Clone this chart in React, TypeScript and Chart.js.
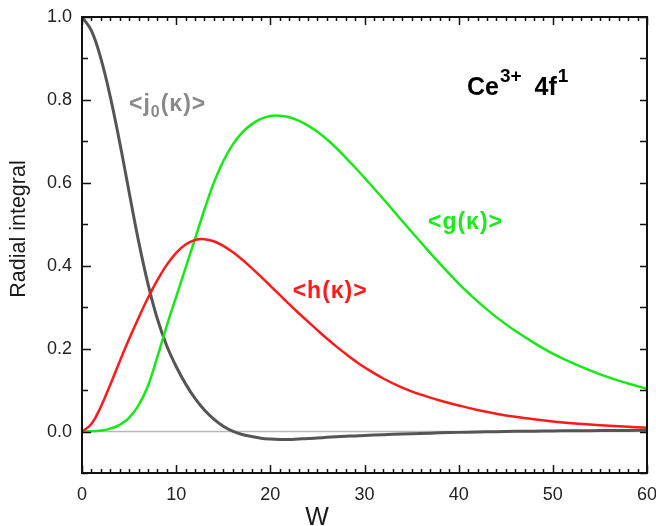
import { useEffect, useRef } from "react";
import { Chart, registerables } from "chart.js";

Chart.register(...registerables);

// ---- data ----
const W = [0, 1, 2, 3, 4, 5, 6, 7, 8, 9, 10, 11, 12, 13, 14, 15, 16, 17, 18, 19, 20, 21, 22, 23, 24, 25, 26, 27, 28, 29, 30, 32, 34, 36, 38, 40, 42, 44, 46, 48, 50, 52, 54, 56, 58, 60];
const J0 = [1.0, 0.967, 0.9, 0.808, 0.698, 0.578, 0.46, 0.357, 0.272, 0.207, 0.157, 0.115, 0.08, 0.052, 0.03, 0.013, 0.001, -0.007, -0.012, -0.016, -0.018, -0.019, -0.019, -0.018, -0.017, -0.0155, -0.014, -0.0128, -0.0116, -0.0105, -0.0095, -0.0076, -0.006, -0.0045, -0.0032, -0.002, -0.001, -0.0002, 0.0005, 0.001, 0.0015, 0.0018, 0.0021, 0.0024, 0.0027, 0.003];
const H = [0, 0.018, 0.06, 0.113, 0.169, 0.223, 0.274, 0.322, 0.365, 0.402, 0.431, 0.451, 0.462, 0.464, 0.459, 0.448, 0.433, 0.415, 0.395, 0.3735, 0.3515, 0.3295, 0.3075, 0.286, 0.265, 0.2445, 0.2245, 0.2055, 0.1875, 0.1705, 0.155, 0.128, 0.106, 0.089, 0.075, 0.063, 0.052, 0.043, 0.0355, 0.0295, 0.0245, 0.0202, 0.0168, 0.0138, 0.0113, 0.0092];
const G = [0, 0.0005, 0.0025, 0.007, 0.016, 0.033, 0.063, 0.11, 0.18, 0.255, 0.325, 0.395, 0.465, 0.535, 0.6, 0.652, 0.692, 0.721, 0.741, 0.754, 0.761, 0.762, 0.758, 0.75, 0.738, 0.723, 0.705, 0.684, 0.661, 0.637, 0.612, 0.561, 0.508, 0.456, 0.405, 0.357, 0.314, 0.276, 0.243, 0.214, 0.188, 0.166, 0.147, 0.13, 0.116, 0.103];

const X_TICKS = [0, 10, 20, 30, 40, 50, 60];
const Y_TICKS = [0.0, 0.2, 0.4, 0.6, 0.8, 1.0];
const X_MIN = 0;
const X_MAX = 60;
const Y_MIN = -0.1;
const Y_MAX = 1.0;
const X_TITLE = "W";
const Y_TITLE = "Radial integral";

type Part = { text: string; size: number; dy?: number; dx?: number; ls?: number };
type Label = { x: number; y: number; color: string; parts: Part[] };

const LABELS: Label[] = [
  {
    x: 40.88, y: 0.812, color: "#000000",
    parts: [
      { text: "Ce", size: 25 },
      { text: "3+", size: 19, dy: -13, dx: 1 },
      { text: "4f", size: 25, dx: 13 },
      { text: "1", size: 19, dy: -13, dx: 1 },
    ],
  },
  {
    x: 4.99, y: 0.774, color: "#8a8a8a",
    parts: [
      { text: "<j", size: 23, ls: 1 },
      { text: "0", size: 16, dy: 6, ls: 1 },
      { text: "(\u03BA)>", size: 23, ls: 1 },
    ],
  },
  { x: 36.74, y: 0.4885, color: "#1ee81e", parts: [{ text: "<g(\u03BA)>", size: 23, ls: 1 }] },
  { x: 22.37, y: 0.323, color: "#ff1a1a", parts: [{ text: "<h(\u03BA)>", size: 23, ls: 1 }] },
];

const FONT = '"Liberation Sans", Arial, sans-serif';

function drawParts(ctx: CanvasRenderingContext2D, x: number, y: number, parts: Part[], color: string) {
  let cx = x;
  ctx.fillStyle = color;
  ctx.textAlign = "left";
  ctx.textBaseline = "alphabetic";
  for (const p of parts) {
    ctx.font = `bold ${p.size}px ${FONT}`;
    (ctx as any).letterSpacing = `${p.ls ?? 0}px`;
    cx += p.dx ?? 0;
    ctx.fillText(p.text, cx, y + (p.dy ?? 0));
    cx += ctx.measureText(p.text).width;
  }
  (ctx as any).letterSpacing = "0px";
}

const framePlugin = {
  id: "framePlugin",
  beforeDatasetsDraw(chart: any) {
    const { ctx, chartArea: a, scales } = chart;
    const y0 = scales.y.getPixelForValue(0);
    ctx.save();
    ctx.strokeStyle = "#b8b8b8";
    ctx.lineWidth = 1.5;
    ctx.beginPath();
    ctx.moveTo(a.left, y0);
    ctx.lineTo(a.right, y0);
    ctx.stroke();
    ctx.restore();
  },
  afterDatasetsDraw(chart: any) {
    const { ctx, chartArea: a, scales } = chart;
    const xs = scales.x;
    const ys = scales.y;
    ctx.save();
    ctx.strokeStyle = "#111111";
    ctx.lineWidth = 1.5;
    ctx.beginPath();
    for (let i = X_MIN; i <= X_MAX; i++) {
      const px = Math.round(xs.getPixelForValue(i)) + 0.5;
      const major = i % 10 === 0;
      const len = major ? 8 : 4;
      ctx.moveTo(px, a.bottom);
      ctx.lineTo(px, a.bottom - len);
      ctx.moveTo(px, a.top);
      ctx.lineTo(px, a.top + len);
    }
    for (let i = -1; i <= 10; i++) {
      const py = Math.round(ys.getPixelForValue(i / 10)) + 0.5;
      const major = i >= 0 && i % 2 === 0;
      ctx.moveTo(a.left, py);
      ctx.lineTo(a.left + (major ? 9 : 6), py);
      ctx.moveTo(a.right, py);
      ctx.lineTo(a.right - 7, py);
    }
    ctx.stroke();
    ctx.lineWidth = 2;
    ctx.strokeRect(a.left, a.top, a.right - a.left, a.bottom - a.top);
    ctx.restore();
  },
  afterDraw(chart: any) {
    const { ctx, scales } = chart;
    ctx.save();
    for (const l of LABELS) {
      drawParts(ctx, scales.x.getPixelForValue(l.x), scales.y.getPixelForValue(l.y), l.parts, l.color);
    }
    // axis titles
    ctx.fillStyle = "#1a1a1a";
    ctx.font = `25px ${FONT}`;
    ctx.textAlign = "center";
    ctx.textBaseline = "alphabetic";
    ctx.fillText(X_TITLE, 317, 525);
    ctx.translate(25, 229);
    ctx.rotate(-Math.PI / 2);
    ctx.font = `21.5px ${FONT}`;
    ctx.fillText(Y_TITLE, 0, 0);
    ctx.restore();
  },
};

export default function App() {
  const ref = useRef<HTMLCanvasElement | null>(null);
  useEffect(() => {
    document.body.style.margin = "0";
    const canvas = ref.current!;
    const mk = (vals: number[]) => W.map((w, i) => ({ x: w, y: vals[i] }));
    const chart = new Chart(canvas, {
      type: "line",
      data: {
        datasets: [
          { data: mk(H), borderColor: "#ff1a1a", borderWidth: 2.5 },
          { data: mk(G), borderColor: "#17e817", borderWidth: 2.5 },
          { data: mk(J0), borderColor: "#555555", borderWidth: 3 },
        ].map((d) => ({ ...d, pointRadius: 0, fill: false, tension: 0.4 })),
      },
      options: {
        responsive: false,
        animation: false,
        layout: { padding: { top: 17, right: 9, left: 0, bottom: 0 } },
        plugins: { legend: { display: false }, tooltip: { enabled: false } },
        scales: {
          x: {
            type: "linear",
            min: X_MIN,
            max: X_MAX,
            grid: { display: false, drawTicks: false },
            border: { display: false },
            ticks: { font: { size: 18, family: FONT }, color: "#222222", padding: 11, maxRotation: 0, autoSkip: false, callback: (v: any) => String(v) },
            afterBuildTicks: (s: any) => { s.ticks = X_TICKS.map((v) => ({ value: v })); },
            afterFit: (s: any) => { s.height = 53; s.paddingLeft = 0; s.paddingRight = 0; },
          },
          y: {
            type: "linear",
            min: Y_MIN,
            max: Y_MAX,
            grid: { display: false, drawTicks: false },
            border: { display: false },
            ticks: { font: { size: 18, family: FONT }, color: "#222222", padding: 10, autoSkip: false, callback: (v: any) => Number(v).toFixed(1) },
            afterBuildTicks: (s: any) => { s.ticks = Y_TICKS.map((v) => ({ value: v })); },
            afterFit: (s: any) => { s.width = 82; s.paddingTop = 0; s.paddingBottom = 0; },
          },
        },
      },
      plugins: [framePlugin],
    });
    return () => chart.destroy();
  }, []);
  return (
    <div style={{ position: "absolute", left: 0, top: 0, width: 656, height: 526 }}>
      <canvas ref={ref} width={656} height={526} />
    </div>
  );
}
